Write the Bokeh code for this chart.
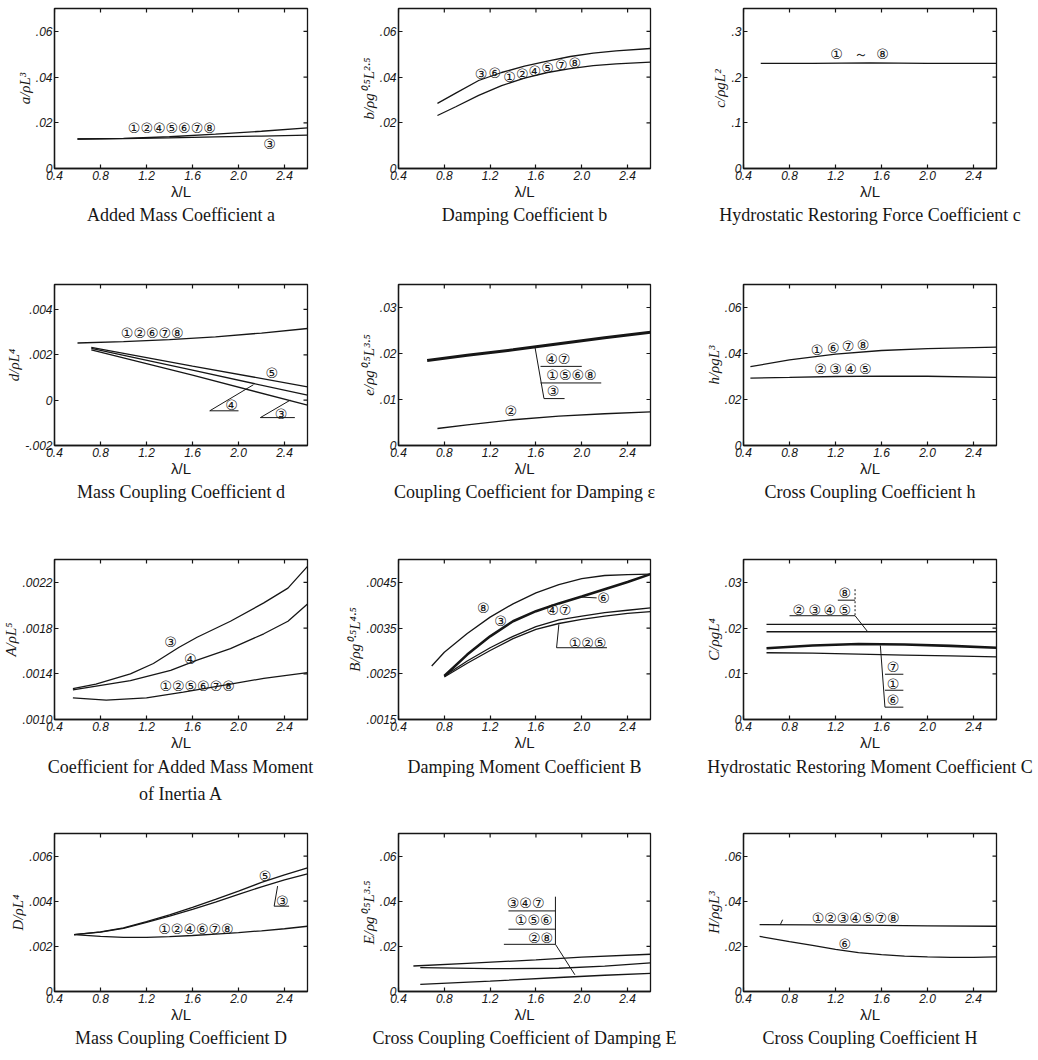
import math
from bokeh.plotting import figure
from bokeh.layouts import gridplot
from bokeh.models import (Range1d, FixedTicker, Title,
                          PrintfTickFormatter, CustomJSTickFormatter)
from bokeh.core.properties import value
from bokeh.embed import file_html
from bokeh.resources import INLINE

# ------------------------------------------------------------------ data
X_TICKS = [0.4, 0.8, 1.2, 1.6, 2.0, 2.4]
X_LABEL = "λ/L"

# a : added mass coefficient
a_x = [0.6, 1.0, 1.4, 1.8, 2.2, 2.6]
a_1245678 = [0.0129, 0.0132, 0.0139, 0.0150, 0.0163, 0.0178]
a_3 = [0.0129, 0.0131, 0.0134, 0.0138, 0.0142, 0.0146]

# b : damping coefficient
b_x = [0.74, 0.9, 1.1, 1.3, 1.5, 1.7, 1.9, 2.1, 2.3, 2.6]
b_upper = [0.0285, 0.0330, 0.0385, 0.0420, 0.0448, 0.0470, 0.0490, 0.0505, 0.0515, 0.0525]
b_lower = [0.0232, 0.0270, 0.0320, 0.0363, 0.0395, 0.0420, 0.0437, 0.0450, 0.0458, 0.0465]

# c : hydrostatic restoring force coefficient
c_x = [0.55, 1.0, 1.5, 2.0, 2.6]
c_all = [0.230, 0.230, 0.231, 0.230, 0.230]

# d : mass coupling coefficient
d_x = [0.6, 1.0, 1.4, 1.8, 2.2, 2.6]
d_12678 = [0.00252, 0.00258, 0.00267, 0.00279, 0.00296, 0.00316]
d_x2 = [0.72, 1.6, 2.6]
d_5 = [0.00233, 0.00150, 0.00059]
d_4 = [0.00228, 0.00132, 0.00022]
d_3 = [0.00222, 0.00110, -0.00022]

# e : coupling coefficient for damping
e_x1 = [0.65, 1.0, 1.4, 1.8, 2.2, 2.6]
e_main = [0.0185, 0.0196, 0.0208, 0.0221, 0.0234, 0.0246]
e_x2 = [0.74, 1.0, 1.4, 1.8, 2.2, 2.6]
e_2 = [0.0037, 0.0045, 0.0056, 0.0064, 0.0069, 0.0073]

# h : cross coupling coefficient
h_x = [0.46, 0.8, 1.2, 1.6, 2.0, 2.6]
h_1678 = [0.0343, 0.0372, 0.0397, 0.0413, 0.0421, 0.0428]
h_2345 = [0.0293, 0.0296, 0.0300, 0.0302, 0.0301, 0.0296]

# A : added mass moment of inertia
A_x3 = [0.56, 0.76, 1.06, 1.26, 1.48, 1.64, 1.93, 2.22, 2.43, 2.6]
A_3 = [0.00127, 0.00131, 0.00140, 0.00149, 0.00163, 0.00172, 0.00186, 0.00202, 0.00215, 0.00234]
A_x5 = [0.56, 1.06, 1.41, 1.64, 1.93, 2.22, 2.43, 2.6]
A_5 = [0.00126, 0.00134, 0.00143, 0.00152, 0.00162, 0.00175, 0.00186, 0.00201]
A_xr = [0.56, 0.85, 1.2, 1.52, 1.93, 2.22, 2.6]
A_rest = [0.00119, 0.00117, 0.00119, 0.00124, 0.00131, 0.00136, 0.00141]

# B : damping moment coefficient
B_x8 = [0.69, 0.8, 1.0, 1.2, 1.4, 1.6, 1.8, 2.0, 2.2, 2.4, 2.6]
B_8 = [0.00267, 0.00297, 0.00338, 0.00374, 0.00403, 0.00427, 0.00445, 0.00458, 0.00465, 0.00467, 0.00468]
B_x = [0.8, 1.0, 1.2, 1.4, 1.6, 1.8, 2.0, 2.2, 2.4, 2.6]
B_36 = [0.00245, 0.00292, 0.00332, 0.00365, 0.00387, 0.00404, 0.00419, 0.00435, 0.00451, 0.00468]
B_47 = [0.00245, 0.00278, 0.00307, 0.00332, 0.00353, 0.00368, 0.00376, 0.00384, 0.00389, 0.00394]
B_125 = [0.00243, 0.00273, 0.00301, 0.00327, 0.00347, 0.00360, 0.00369, 0.00376, 0.00382, 0.00386]

# C : hydrostatic restoring moment coefficient
C_x = [0.6, 1.0, 1.4, 1.8, 2.2, 2.6]
C_l1 = [0.0208, 0.0208, 0.0208, 0.0208, 0.0208, 0.0208]
C_l2 = [0.0192, 0.0192, 0.0192, 0.0192, 0.0192, 0.0192]
C_l3 = [0.0156, 0.0162, 0.0165, 0.0164, 0.0161, 0.0157]
C_l4 = [0.0146, 0.0145, 0.0143, 0.0141, 0.0139, 0.0137]

# D : mass coupling coefficient
D_x = [0.57, 0.8, 1.0, 1.2, 1.4, 1.6, 1.8, 2.0, 2.2, 2.4, 2.6]
D_5 = [0.00252, 0.00264, 0.00282, 0.00310, 0.00340, 0.00373, 0.00408, 0.00445, 0.00483, 0.00517, 0.00548]
D_3 = [0.00252, 0.00263, 0.00280, 0.00306, 0.00334, 0.00364, 0.00396, 0.00430, 0.00464, 0.00495, 0.00521]
D_rest = [0.00252, 0.00244, 0.00240, 0.00240, 0.00243, 0.00248, 0.00254, 0.00261, 0.00269, 0.00278, 0.00289]

# E : cross coupling coefficient of damping
E_x1 = [0.53, 1.0, 1.6, 2.0, 2.6]
E_347 = [0.0113, 0.0125, 0.0140, 0.0152, 0.0165]
E_x2 = [0.59, 1.2, 1.8, 2.2, 2.6]
E_156 = [0.0106, 0.0101, 0.0103, 0.0112, 0.0127]
E_28 = [0.0032, 0.0046, 0.0062, 0.0072, 0.0080]

# H : cross coupling coefficient
H_x1 = [0.54, 1.0, 1.6, 2.0, 2.6]
H_main = [0.0296, 0.0295, 0.0293, 0.0291, 0.0289]
H_x2 = [0.54, 0.8, 1.0, 1.2, 1.4, 1.6, 1.8, 2.0, 2.2, 2.4, 2.6]
H_6 = [0.0244, 0.0221, 0.0204, 0.0187, 0.0172, 0.0163, 0.0157, 0.0153, 0.0151, 0.0151, 0.0153]

# ------------------------------------------------------------------ style
INK = "#161616"
SERIF = "Liberation Serif"
SANS = "Liberation Sans"
CIRC = "DejaVu Sans"

# figure sizes and borders per grid column / row (left, right) and (top, bottom)
COL_W = [340, 340, 354]
COL_LR = [(53, 33), (58, 30), (63, 38)]
ROW_H = [260, 250, 297, 243]
ROW_TB = [(8, 92), (24, 65), (49, 88), (26, 59)]
CAP_STANDOFF = [0, 0, 2, 1]


def style_axis(ax):
    ax.axis_line_color = INK
    ax.axis_line_width = 1.3
    ax.major_tick_line_color = INK
    ax.major_tick_line_width = 1.2
    ax.major_tick_in = 4
    ax.major_tick_out = 0
    ax.minor_tick_line_color = None
    ax.major_label_text_font = SANS
    ax.major_label_text_font_style = "italic"
    ax.major_label_text_font_size = "12px"
    ax.major_label_text_color = INK
    ax.major_label_standoff = 2
    ax.axis_label_text_color = INK
    ax.axis_label_standoff = 0


def make_panel(col, row, y_range, y_ticks, y_digits, y_label, caption):
    left, right = COL_LR[col]
    top, bottom = ROW_TB[row]
    p = figure(width=COL_W[col], height=ROW_H[row], output_backend="svg",
               toolbar_location=None,
               x_range=Range1d(0.4, 2.6), y_range=Range1d(*y_range),
               min_border_left=left, min_border_right=right,
               min_border_top=top, min_border_bottom=bottom,
               x_axis_label=X_LABEL, y_axis_label=y_label)
    p.grid.visible = False
    p.outline_line_color = INK
    p.outline_line_width = 1.3
    p.background_fill_color = "white"
    p.border_fill_color = "white"
    xa = p.xaxis[0]
    ya = p.yaxis[0]
    xa.ticker = FixedTicker(ticks=X_TICKS)
    xa.formatter = PrintfTickFormatter(format="%.1f")
    ya.ticker = FixedTicker(ticks=y_ticks)
    ya.formatter = CustomJSTickFormatter(args=dict(d=y_digits), code="""
        if (Math.abs(tick) < 1e-12) { return "0"; }
        return tick.toFixed(d).replace("0.", ".");
    """)
    style_axis(xa)
    style_axis(ya)
    xa.axis_label_text_font = SANS
    xa.axis_label_text_font_style = "normal"
    xa.axis_label_text_font_size = "15px"
    ya.axis_label_text_font = SERIF
    ya.axis_label_text_font_style = "italic"
    ya.axis_label_text_font_size = "15px"
    # inward tick marks on the top and right frame edges
    p.scatter(X_TICKS, [y_range[1]] * len(X_TICKS), marker="dash", size=8,
              angle=math.pi / 2, line_color=INK, line_width=1.2)
    p.scatter([2.6] * len(y_ticks), y_ticks, marker="dash", size=8,
              line_color=INK, line_width=1.2)
    for i, line in enumerate(caption):
        t = Title(text=line, align="center", text_font=SERIF,
                  text_font_size="18px", text_font_style="normal",
                  text_color=INK, standoff=CAP_STANDOFF[row] if i == 0 else 8)
        p.add_layout(t, "below")
    return p


def curve(p, x, y, w=1.3):
    p.line(x, y, line_color=INK, line_width=w)


def tag(p, x, y, t, size="14px"):
    p.text(x=x, y=y, text=t, text_font=value(CIRC), text_font_size=size,
           text_align="center", text_baseline="middle", text_color=INK)


def leader(p, x, y, dash="solid", w=1.0):
    p.line(x, y, line_color=INK, line_width=w, line_dash=dash)


# ------------------------------------------------------------------ panels
pa = make_panel(0, 0, (0, 0.07), [0, 0.02, 0.04, 0.06], 2,
                "a/ρL³", ["Added Mass Coefficient a"])
curve(pa, a_x, a_1245678)
curve(pa, a_x, a_3)
tag(pa, [1.42], [0.0176], ["①②④⑤⑥⑦⑧"])
tag(pa, [2.27], [0.0108], ["③"])

pb = make_panel(1, 0, (0, 0.07), [0, 0.02, 0.04, 0.06], 2,
                "b/ρg⁰·⁵L²·⁵", ["Damping Coefficient b"])
curve(pb, b_x, b_upper)
curve(pb, b_x, b_lower)
tag(pb, [1.12, 1.24], [0.0413, 0.0420], ["③", "⑥"])
tag(pb, [1.37, 1.48, 1.59, 1.70, 1.82, 1.94],
    [0.0400, 0.0413, 0.0426, 0.0438, 0.0452, 0.0462],
    ["①", "②", "④", "⑤", "⑦", "⑧"])

pc = make_panel(2, 0, (0, 0.35), [0, 0.1, 0.2, 0.3], 1,
                "c/ρgL²", ["Hydrostatic Restoring Force Coefficient c"])
curve(pc, c_x, c_all)
tag(pc, [1.21, 1.42, 1.61], [0.25, 0.25, 0.25], ["①", "～", "⑧"])

pd = make_panel(0, 1, (-0.002, 0.0051), [-0.002, 0, 0.002, 0.004], 3,
                "d/ρL⁴", ["Mass Coupling Coefficient d"])
curve(pd, d_x, d_12678)
curve(pd, d_x2, d_5)
curve(pd, d_x2, d_4)
curve(pd, d_x2, d_3)
tag(pd, [1.25], [0.00295], ["①②⑥⑦⑧"])
tag(pd, [2.29], [0.00119], ["⑤"])
tag(pd, [1.94], [-0.00022], ["④"])
leader(pd, [2.0, 1.75, 2.13], [-0.00047, -0.00047, 0.00068])
tag(pd, [2.37], [-0.00062], ["③"])
leader(pd, [2.49, 2.19, 2.45], [-0.00077, -0.00077, 0.0])

pe = make_panel(1, 1, (0, 0.035), [0, 0.01, 0.02, 0.03], 2,
                "e/ρg⁰·⁵L³·⁵", ["Coupling Coefficient for Damping ε"])
curve(pe, e_x1, e_main, 3.0)
curve(pe, e_x2, e_2)
leader(pe, [1.59, 1.67], [0.0216, 0.0102])
leader(pe, [1.64, 2.0], [0.0172, 0.0172])
leader(pe, [1.64, 2.17], [0.0136, 0.0136])
leader(pe, [1.67, 1.85], [0.0102, 0.0102])
tag(pe, [1.79], [0.0189], ["④⑦"])
tag(pe, [1.91], [0.0153], ["①⑤⑥⑧"])
tag(pe, [1.75], [0.0119], ["③"])
tag(pe, [1.38], [0.0074], ["②"])

ph = make_panel(2, 1, (0, 0.07), [0, 0.02, 0.04, 0.06], 2,
                "h/ρgL³", ["Cross Coupling Coefficient h"])
curve(ph, h_x, h_1678)
curve(ph, h_x, h_2345)
tag(ph, [1.04, 1.18, 1.31, 1.44], [0.0415, 0.0423, 0.0433, 0.0437],
    ["①", "⑥", "⑦", "⑧"])
tag(ph, [1.07, 1.20, 1.33, 1.46], [0.0331, 0.0332, 0.0331, 0.0332],
    ["②", "③", "④", "⑤"])

pA = make_panel(0, 2, (0.0010, 0.0024), [0.0010, 0.0014, 0.0018, 0.0022], 4,
                "A/ρL⁵", ["Coefficient for Added Mass Moment", "of Inertia A"])
curve(pA, A_x3, A_3)
curve(pA, A_x5, A_5)
curve(pA, A_xr, A_rest)
tag(pA, [1.41], [0.00168], ["③"])
tag(pA, [1.58], [0.00153], ["④"])
tag(pA, [1.64], [0.00129], ["①②⑤⑥⑦⑧"])

pB = make_panel(1, 2, (0.0015, 0.0050), [0.0015, 0.0025, 0.0035, 0.0045], 4,
                "B/ρg⁰·⁵L⁴·⁵", ["Damping Moment Coefficient B"])
curve(pB, B_x8, B_8)
curve(pB, B_x, B_36, 2.6)
curve(pB, B_x, B_47)
curve(pB, B_x, B_125)
tag(pB, [1.14], [0.00395], ["⑧"])
tag(pB, [1.29], [0.00365], ["③"])
tag(pB, [2.19], [0.00416], ["⑥"])
leader(pB, [2.13, 1.98], [0.00416, 0.00418])
tag(pB, [1.80], [0.00389], ["④⑦"])
tag(pB, [2.05], [0.00318], ["①②⑤"])
leader(pB, [1.80, 1.78, 2.22], [0.00358, 0.00307, 0.00307])

pC = make_panel(2, 2, (0, 0.035), [0, 0.01, 0.02, 0.03], 2,
                "C/ρgL⁴", ["Hydrostatic Restoring Moment Coefficient C"])
curve(pC, C_x, C_l1)
curve(pC, C_x, C_l2)
curve(pC, C_x, C_l3, 2.6)
curve(pC, C_x, C_l4)
tag(pC, [0.88, 1.02, 1.15, 1.28], [0.0239] * 4, ["②", "③", "④", "⑤"])
tag(pC, [1.28], [0.0276], ["⑧"])
leader(pC, [0.80, 1.37], [0.0227, 0.0227])
leader(pC, [1.22, 1.37], [0.0261, 0.0261])
leader(pC, [1.37, 1.37], [0.0285, 0.0227], dash="2 2")
leader(pC, [1.37, 1.48], [0.0227, 0.0192])
leader(pC, [1.59, 1.63], [0.0162, 0.0027])
leader(pC, [1.63, 1.79], [0.0099, 0.0099])
leader(pC, [1.63, 1.79], [0.0064, 0.0064])
leader(pC, [1.63, 1.79], [0.0027, 0.0027])
tag(pC, [1.70, 1.70, 1.70], [0.0114, 0.0078, 0.0042], ["⑦", "①", "⑥"])

pD = make_panel(0, 3, (0, 0.007), [0, 0.002, 0.004, 0.006], 3,
                "D/ρL⁴", ["Mass Coupling Coefficient D"])
curve(pD, D_x, D_5)
curve(pD, D_x, D_3)
curve(pD, D_x, D_rest)
tag(pD, [2.23], [0.00511], ["⑤"])
tag(pD, [2.38], [0.00403], ["③"])
leader(pD, [2.34, 2.31, 2.44], [0.00467, 0.00378, 0.00378])
tag(pD, [1.63], [0.00279], ["①②④⑥⑦⑧"])

pE = make_panel(1, 3, (0, 0.07), [0, 0.02, 0.04, 0.06], 2,
                "E/ρg⁰·⁵L³·⁵", ["Cross Coupling Coefficient of Damping E"])
curve(pE, E_x1, E_347)
curve(pE, E_x2, E_156)
curve(pE, E_x2, E_28)
tag(pE, [1.51], [0.0394], ["③④⑦"])
tag(pE, [1.58], [0.0317], ["①⑤⑥"])
tag(pE, [1.64], [0.0236], ["②⑧"])
leader(pE, [1.36, 1.77], [0.0357, 0.0357])
leader(pE, [1.36, 1.77], [0.0276, 0.0276])
leader(pE, [1.32, 1.77], [0.0209, 0.0209])
leader(pE, [1.77, 1.77], [0.0420, 0.0209])
leader(pE, [1.77, 1.94], [0.0209, 0.0074])

pH = make_panel(2, 3, (0, 0.07), [0, 0.02, 0.04, 0.06], 2,
                "H/ρgL³", ["Cross Coupling Coefficient H"])
curve(pH, H_x1, H_main)
curve(pH, H_x2, H_6)
leader(pH, [0.72, 0.74], [0.0296, 0.0318])
tag(pH, [1.375], [0.0327], ["①②③④⑤⑦⑧"])
tag(pH, [1.28], [0.0212], ["⑥"])

grid = gridplot([[pa, pb, pc], [pd, pe, ph], [pA, pB, pC], [pD, pE, pH]],
                toolbar_location=None)

open("out.html", "w").write(file_html(grid, INLINE))
